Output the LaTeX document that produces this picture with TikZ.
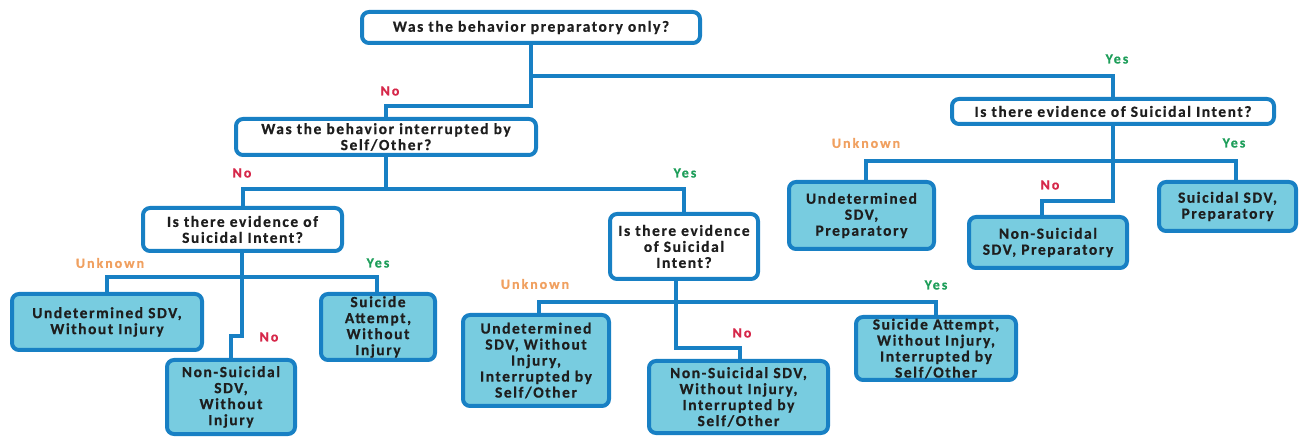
\documentclass[tikz,border=0pt]{standalone}
\usepackage{fontspec}
\setmainfont{Carlito}[LetterSpace=10, BoldFeatures={FakeBold=0.6}]
\newfontfamily\labfont{Carlito}[LetterSpace=14, BoldFeatures={FakeBold=0.6}]
\definecolor{bblue}{RGB}{24,128,196}
\definecolor{leaf}{RGB}{120,204,224}
\definecolor{nored}{RGB}{214,40,74}
\definecolor{yesgreen}{RGB}{30,158,90}
\definecolor{unkorange}{RGB}{240,160,96}
\definecolor{txt}{RGB}{30,30,30}
\tikzset{
 qbox/.style={draw=bblue, line width=4pt, rounded corners=7pt, fill=white, align=center,
   font=\bfseries\fontsize{15.5}{16}\selectfont, text=txt, inner sep=0pt},
 lbox/.style={qbox, fill=leaf},
 conn/.style={draw=bblue, line width=4pt, line join=miter},
 lab/.style={font=\labfont\bfseries\fontsize{14}{15}\selectfont, inner sep=0pt},
 nolab/.style={lab, text=nored},
 yeslab/.style={lab, text=yesgreen},
 unklab/.style={lab, text=unkorange},
}
\begin{document}
\begin{tikzpicture}[x=1pt,y=-1pt]
\useasboundingbox (0,0) rectangle (1302,438);
% question boxes
\node[qbox, minimum width=338pt, minimum height=31pt] (A) at (531,27.5) {Was the behavior preparatory only?};
\node[qbox, minimum width=300pt, minimum height=36pt] (B) at (386,137) {Was the behavior interrupted by\\Self/Other?};
\node[qbox, minimum width=322pt, minimum height=25pt] (Q2) at (1113,111.5) {Is there evidence of Suicidal Intent?};
\node[qbox, minimum width=199pt, minimum height=43pt] (C) at (242.5,229.5) {Is there evidence of\\Suicidal Intent?};
\node[qbox, minimum width=148pt, minimum height=65pt] (Q1b) at (684,246.5) {Is there evidence\\of Suicidal\\Intent?};
% leaf boxes
\node[lbox, minimum width=190pt, minimum height=56pt] (L1) at (107,322) {Undetermined SDV,\\Without Injury};
\node[lbox, minimum width=128pt, minimum height=74pt] (L2) at (231,397) {Non-Suicidal\\SDV,\\Without\\Injury};
\node[lbox, minimum width=114pt, minimum height=66pt] (L3) at (378,327) {Suicide\\Attempt,\\Without\\Injury};
\node[lbox, minimum width=146pt, minimum height=91pt] (M1) at (536,360.5) {Undetermined\\SDV, Without\\Injury,\\Interrupted by\\Self/Other};
\node[lbox, minimum width=179pt, minimum height=72pt] (M2) at (738.5,397) {Non-Suicidal SDV,\\Without Injury,\\Interrupted by\\Self/Other};
\node[lbox, minimum width=160pt, minimum height=63pt] (M3) at (936,348.5) {Suicide Attempt,\\Without Injury,\\Interrupted by\\Self/Other};
\node[lbox, minimum width=145pt, minimum height=67pt] (R1) at (861.5,215.5) {Undetermined\\SDV,\\Preparatory};
\node[lbox, minimum width=158pt, minimum height=51pt] (R2) at (1048,242.5) {Non-Suicidal\\SDV, Preparatory};
\node[lbox, minimum width=137pt, minimum height=49pt] (R3) at (1227.5,206.5) {Suicidal SDV,\\Preparatory};
% junction coordinates
\coordinate (a1) at (531,76);
\coordinate (a2) at (531,106);
\coordinate (b1) at (386,189);
\coordinate (c1) at (242,277);
\coordinate (c2) at (242,336);
\coordinate (c3) at (231,336);
\coordinate (d1) at (676,302);
\coordinate (d2) at (676,348);
\coordinate (d3) at (740,348);
\coordinate (q2) at (1113,201);
\coordinate (q3) at (1042,201);
\coordinate (l1) at (107,277);
\coordinate (l3) at (377,277);
\coordinate (m1) at (539,302);
\coordinate (m3) at (936,302);
\coordinate (r1) at (866,161);
\coordinate (r3) at (1236,161);
% connectors
\draw[conn] (A.south) -- (a2) -| (B.north);
\draw[conn] (a1) -| (Q2.north);
\draw[conn] (B.south) -- (b1);
\draw[conn] (C.north) |- (b1) -| (Q1b.north);
\draw[conn] (C.south -| c1) -- (c2) -- (c3) -- (L2.north -| c3);
\draw[conn] (L1.north -| l1) -- (l1) -- (l3) -- (L3.north -| l3);
\draw[conn] (Q1b.south -| d1) -- (d2) -- (d3) -- (M2.north -| d3);
\draw[conn] (M1.north -| m1) -- (m1) -- (m3) -- (M3.north -| m3);
\draw[conn] (Q2.south) -- (q2) -- (q3) -- (R2.north -| q3);
\draw[conn] (R1.north -| r1) -- (r1) -- (r3) -- (R3.north -| r3);
% labels
\node[nolab] (t1) at (390,91) {No};
\node[yeslab] (t2) at (1117,59) {Yes};
\node[nolab] (t3) at (242,173) {No};
\node[yeslab] (t4) at (685,173) {Yes};
\node[unklab] (t5) at (866,143) {Unknown};
\node[yeslab] (t6) at (1234,143) {Yes};
\node[nolab] (t7) at (1050,185) {No};
\node[unklab] (t8) at (110,263) {Unknown};
\node[yeslab] (t9) at (378,263) {Yes};
\node[nolab] (t10) at (269,337) {No};
\node[unklab] (t11) at (535,284) {Unknown};
\node[yeslab] (t12) at (936,285) {Yes};
\node[nolab] (t13) at (742,333) {No};
\end{tikzpicture}
\end{document}
